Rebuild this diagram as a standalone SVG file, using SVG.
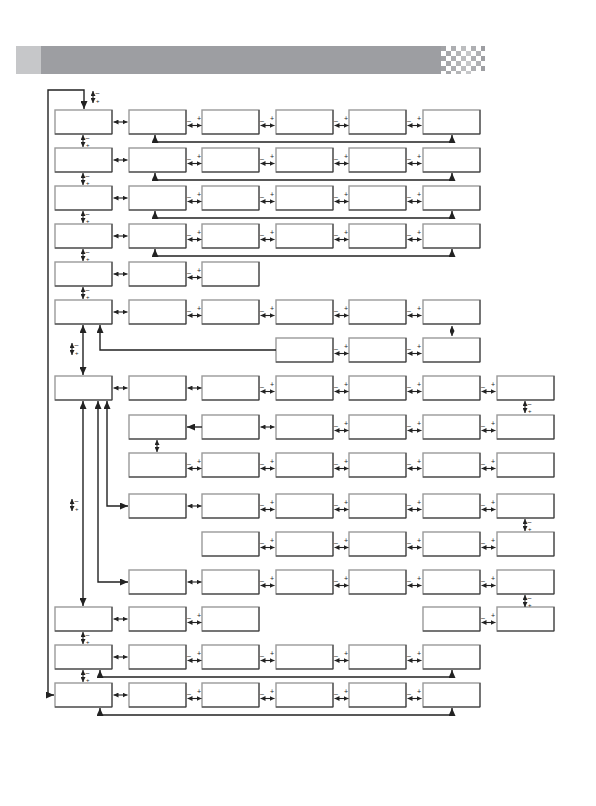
<svg xmlns="http://www.w3.org/2000/svg" xmlns:xlink="http://www.w3.org/1999/xlink" width="596" height="806" viewBox="0 0 596 806">
<style>
.bx{fill:#fff;stroke:#9a9a9a;stroke-width:1.4}
.be{fill:none;stroke:#333;stroke-width:1}
.ln{fill:none;stroke:#222;stroke-width:1.1}
.lg{fill:none;stroke:#222;stroke-width:1.4}
.t{font-family:"Liberation Sans",Arial,sans-serif;font-size:7px;fill:#222}
</style>
<defs>
<marker id="a" viewBox="0 0 5 5" markerWidth="5" markerHeight="5" refX="5" refY="2.5" orient="auto-start-reverse" markerUnits="userSpaceOnUse"><path d="M0,0L5,2.5L0,5z" fill="#222"/></marker>
<marker id="A" viewBox="0 0 8 7" markerWidth="8" markerHeight="7" refX="8" refY="3.5" orient="auto-start-reverse" markerUnits="userSpaceOnUse"><path d="M0,0L8,3.5L0,7z" fill="#222"/></marker>
<g id="box"><rect class="bx" x="0" y="0" width="57" height="24"/><path class="be" d="M0,24H57V0"/></g>
<g id="lr"><path class="ln" d="M1.5,12H15.5" marker-start="url(#a)" marker-end="url(#a)"/></g>
<g id="pm"><path class="ln" d="M1.5,15.5H15.5" marker-start="url(#a)" marker-end="url(#a)"/><text class="t" x="1" y="13">–</text><text class="t" x="11" y="11" font-size="6">+</text></g>
<g id="ud"><path class="ln" d="M0,1V13" marker-start="url(#a)" marker-end="url(#a)"/><text class="t" x="2.5" y="6">–</text><text class="t" x="3" y="13" style="font-size:6px">+</text></g>
<g id="ic"><path class="ln" d="M0,0V12" marker-start="url(#a)" marker-end="url(#a)"/><text class="t" x="2.5" y="4">–</text><text class="t" x="3" y="12" style="font-size:6px">+</text></g>
</defs>

<g id="header">
<rect x="16" y="46" width="25" height="28" fill="#c6c7c9"/>
<rect x="41" y="46" width="400" height="28" fill="#9d9ea2"/>
<g>
<rect x="441" y="46" width="5" height="5" fill="#a2a3a6"/><rect x="446" y="51" width="5" height="5" fill="#a6a7aa"/><rect x="441" y="56" width="5" height="5" fill="#a2a3a6"/><rect x="446" y="61" width="5" height="5" fill="#a6a7aa"/><rect x="441" y="66" width="5" height="5" fill="#a2a3a6"/><rect x="446" y="71" width="5" height="3" fill="#a6a7aa"/>
<rect x="451" y="46" width="5" height="5" fill="#adaeb1"/><rect x="456" y="51" width="5" height="5" fill="#b4b5b7"/><rect x="451" y="56" width="5" height="5" fill="#adaeb1"/><rect x="456" y="61" width="5" height="5" fill="#b4b5b7"/><rect x="451" y="66" width="5" height="5" fill="#adaeb1"/><rect x="456" y="71" width="5" height="3" fill="#b4b5b7"/>
<rect x="461" y="46" width="5" height="5" fill="#bcbdbf"/><rect x="466" y="51" width="5" height="5" fill="#c6c7c9"/><rect x="461" y="56" width="5" height="5" fill="#bcbdbf"/><rect x="466" y="61" width="5" height="5" fill="#c6c7c9"/><rect x="461" y="66" width="5" height="5" fill="#bcbdbf"/><rect x="466" y="71" width="5" height="3" fill="#c6c7c9"/>
<rect x="471" y="46" width="5" height="5" fill="#aeafb2"/><rect x="476" y="51" width="5" height="5" fill="#b0b1b4"/><rect x="471" y="56" width="5" height="5" fill="#aeafb2"/><rect x="476" y="61" width="5" height="5" fill="#b0b1b4"/><rect x="471" y="66" width="5" height="5" fill="#aeafb2"/>
<rect x="481" y="46" width="4" height="5" fill="#9d9ea2"/><rect x="481" y="56" width="4" height="5" fill="#9d9ea2"/><rect x="481" y="66" width="4" height="5" fill="#9d9ea2"/>
</g>
</g>

<g id="nodes">
<g id="r0c0"><use xlink:href="#box" x="55" y="110"/></g><g id="r0c1"><use xlink:href="#box" x="129" y="110"/></g><g id="r0c2"><use xlink:href="#box" x="202" y="110"/></g><g id="r0c3"><use xlink:href="#box" x="276" y="110"/></g><g id="r0c4"><use xlink:href="#box" x="349" y="110"/></g><g id="r0c5"><use xlink:href="#box" x="423" y="110"/></g>
<g id="r1c0"><use xlink:href="#box" x="55" y="148"/></g><g id="r1c1"><use xlink:href="#box" x="129" y="148"/></g><g id="r1c2"><use xlink:href="#box" x="202" y="148"/></g><g id="r1c3"><use xlink:href="#box" x="276" y="148"/></g><g id="r1c4"><use xlink:href="#box" x="349" y="148"/></g><g id="r1c5"><use xlink:href="#box" x="423" y="148"/></g>
<g id="r2c0"><use xlink:href="#box" x="55" y="186"/></g><g id="r2c1"><use xlink:href="#box" x="129" y="186"/></g><g id="r2c2"><use xlink:href="#box" x="202" y="186"/></g><g id="r2c3"><use xlink:href="#box" x="276" y="186"/></g><g id="r2c4"><use xlink:href="#box" x="349" y="186"/></g><g id="r2c5"><use xlink:href="#box" x="423" y="186"/></g>
<g id="r3c0"><use xlink:href="#box" x="55" y="224"/></g><g id="r3c1"><use xlink:href="#box" x="129" y="224"/></g><g id="r3c2"><use xlink:href="#box" x="202" y="224"/></g><g id="r3c3"><use xlink:href="#box" x="276" y="224"/></g><g id="r3c4"><use xlink:href="#box" x="349" y="224"/></g><g id="r3c5"><use xlink:href="#box" x="423" y="224"/></g>
<g id="r4c0"><use xlink:href="#box" x="55" y="262"/></g><g id="r4c1"><use xlink:href="#box" x="129" y="262"/></g><g id="r4c2"><use xlink:href="#box" x="202" y="262"/></g>
<g id="r5c0"><use xlink:href="#box" x="55" y="300"/></g><g id="r5c1"><use xlink:href="#box" x="129" y="300"/></g><g id="r5c2"><use xlink:href="#box" x="202" y="300"/></g><g id="r5c3"><use xlink:href="#box" x="276" y="300"/></g><g id="r5c4"><use xlink:href="#box" x="349" y="300"/></g><g id="r5c5"><use xlink:href="#box" x="423" y="300"/></g>
<g id="r6c3"><use xlink:href="#box" x="276" y="338"/></g><g id="r6c4"><use xlink:href="#box" x="349" y="338"/></g><g id="r6c5"><use xlink:href="#box" x="423" y="338"/></g>
<g id="r7c0"><use xlink:href="#box" x="55" y="376"/></g><g id="r7c1"><use xlink:href="#box" x="129" y="376"/></g><g id="r7c2"><use xlink:href="#box" x="202" y="376"/></g><g id="r7c3"><use xlink:href="#box" x="276" y="376"/></g><g id="r7c4"><use xlink:href="#box" x="349" y="376"/></g><g id="r7c5"><use xlink:href="#box" x="423" y="376"/></g><g id="r7c6"><use xlink:href="#box" x="497" y="376"/></g>
<g id="r8c1"><use xlink:href="#box" x="129" y="415"/></g><g id="r8c2"><use xlink:href="#box" x="202" y="415"/></g><g id="r8c3"><use xlink:href="#box" x="276" y="415"/></g><g id="r8c4"><use xlink:href="#box" x="349" y="415"/></g><g id="r8c5"><use xlink:href="#box" x="423" y="415"/></g><g id="r8c6"><use xlink:href="#box" x="497" y="415"/></g>
<g id="r9c1"><use xlink:href="#box" x="129" y="453"/></g><g id="r9c2"><use xlink:href="#box" x="202" y="453"/></g><g id="r9c3"><use xlink:href="#box" x="276" y="453"/></g><g id="r9c4"><use xlink:href="#box" x="349" y="453"/></g><g id="r9c5"><use xlink:href="#box" x="423" y="453"/></g><g id="r9c6"><use xlink:href="#box" x="497" y="453"/></g>
<g id="r10c1"><use xlink:href="#box" x="129" y="494"/></g><g id="r10c2"><use xlink:href="#box" x="202" y="494"/></g><g id="r10c3"><use xlink:href="#box" x="276" y="494"/></g><g id="r10c4"><use xlink:href="#box" x="349" y="494"/></g><g id="r10c5"><use xlink:href="#box" x="423" y="494"/></g><g id="r10c6"><use xlink:href="#box" x="497" y="494"/></g>
<g id="r11c2"><use xlink:href="#box" x="202" y="532"/></g><g id="r11c3"><use xlink:href="#box" x="276" y="532"/></g><g id="r11c4"><use xlink:href="#box" x="349" y="532"/></g><g id="r11c5"><use xlink:href="#box" x="423" y="532"/></g><g id="r11c6"><use xlink:href="#box" x="497" y="532"/></g>
<g id="r12c1"><use xlink:href="#box" x="129" y="570"/></g><g id="r12c2"><use xlink:href="#box" x="202" y="570"/></g><g id="r12c3"><use xlink:href="#box" x="276" y="570"/></g><g id="r12c4"><use xlink:href="#box" x="349" y="570"/></g><g id="r12c5"><use xlink:href="#box" x="423" y="570"/></g><g id="r12c6"><use xlink:href="#box" x="497" y="570"/></g>
<g id="r13c0"><use xlink:href="#box" x="55" y="607"/></g><g id="r13c1"><use xlink:href="#box" x="129" y="607"/></g><g id="r13c2"><use xlink:href="#box" x="202" y="607"/></g><g id="r13c5"><use xlink:href="#box" x="423" y="607"/></g><g id="r13c6"><use xlink:href="#box" x="497" y="607"/></g>
<g id="r14c0"><use xlink:href="#box" x="55" y="645"/></g><g id="r14c1"><use xlink:href="#box" x="129" y="645"/></g><g id="r14c2"><use xlink:href="#box" x="202" y="645"/></g><g id="r14c3"><use xlink:href="#box" x="276" y="645"/></g><g id="r14c4"><use xlink:href="#box" x="349" y="645"/></g><g id="r14c5"><use xlink:href="#box" x="423" y="645"/></g>
<g id="r15c0"><use xlink:href="#box" x="55" y="683"/></g><g id="r15c1"><use xlink:href="#box" x="129" y="683"/></g><g id="r15c2"><use xlink:href="#box" x="202" y="683"/></g><g id="r15c3"><use xlink:href="#box" x="276" y="683"/></g><g id="r15c4"><use xlink:href="#box" x="349" y="683"/></g><g id="r15c5"><use xlink:href="#box" x="423" y="683"/></g>
</g>

<g id="connectors">
<use xlink:href="#lr" x="112" y="110"/><use xlink:href="#lr" x="112" y="148"/><use xlink:href="#lr" x="112" y="186"/><use xlink:href="#lr" x="112" y="224"/><use xlink:href="#lr" x="112" y="262"/><use xlink:href="#lr" x="112" y="300"/><use xlink:href="#lr" x="112" y="376"/><use xlink:href="#lr" x="112" y="607"/><use xlink:href="#lr" x="112" y="645"/><use xlink:href="#lr" x="112" y="683"/>
<use xlink:href="#lr" x="186" y="376"/><use xlink:href="#lr" x="186" y="494"/><use xlink:href="#lr" x="186" y="570"/><use xlink:href="#lr" x="259" y="415"/>
<path class="lg" d="M202,427H187" marker-end="url(#A)"/>

<use xlink:href="#pm" x="186" y="110"/><use xlink:href="#pm" x="259" y="110"/><use xlink:href="#pm" x="333" y="110"/><use xlink:href="#pm" x="406" y="110"/>
<use xlink:href="#pm" x="186" y="148"/><use xlink:href="#pm" x="259" y="148"/><use xlink:href="#pm" x="333" y="148"/><use xlink:href="#pm" x="406" y="148"/>
<use xlink:href="#pm" x="186" y="186"/><use xlink:href="#pm" x="259" y="186"/><use xlink:href="#pm" x="333" y="186"/><use xlink:href="#pm" x="406" y="186"/>
<use xlink:href="#pm" x="186" y="224"/><use xlink:href="#pm" x="259" y="224"/><use xlink:href="#pm" x="333" y="224"/><use xlink:href="#pm" x="406" y="224"/>
<use xlink:href="#pm" x="186" y="262"/>
<use xlink:href="#pm" x="186" y="300"/><use xlink:href="#pm" x="259" y="300"/><use xlink:href="#pm" x="333" y="300"/><use xlink:href="#pm" x="406" y="300"/>
<use xlink:href="#pm" x="333" y="338"/><use xlink:href="#pm" x="406" y="338"/>
<use xlink:href="#pm" x="259" y="376"/><use xlink:href="#pm" x="333" y="376"/><use xlink:href="#pm" x="406" y="376"/><use xlink:href="#pm" x="480" y="376"/>
<use xlink:href="#pm" x="333" y="415"/><use xlink:href="#pm" x="406" y="415"/><use xlink:href="#pm" x="480" y="415"/>
<use xlink:href="#pm" x="186" y="453"/><use xlink:href="#pm" x="259" y="453"/><use xlink:href="#pm" x="333" y="453"/><use xlink:href="#pm" x="406" y="453"/><use xlink:href="#pm" x="480" y="453"/>
<use xlink:href="#pm" x="259" y="494"/><use xlink:href="#pm" x="333" y="494"/><use xlink:href="#pm" x="406" y="494"/><use xlink:href="#pm" x="480" y="494"/>
<use xlink:href="#pm" x="259" y="532"/><use xlink:href="#pm" x="333" y="532"/><use xlink:href="#pm" x="406" y="532"/><use xlink:href="#pm" x="480" y="532"/>
<use xlink:href="#pm" x="259" y="570"/><use xlink:href="#pm" x="333" y="570"/><use xlink:href="#pm" x="406" y="570"/><use xlink:href="#pm" x="480" y="570"/>
<use xlink:href="#pm" x="186" y="607"/><use xlink:href="#pm" x="480" y="607"/>
<use xlink:href="#pm" x="186" y="645"/><use xlink:href="#pm" x="259" y="645"/><use xlink:href="#pm" x="333" y="645"/><use xlink:href="#pm" x="406" y="645"/>
<use xlink:href="#pm" x="186" y="683"/><use xlink:href="#pm" x="259" y="683"/><use xlink:href="#pm" x="333" y="683"/><use xlink:href="#pm" x="406" y="683"/>

<use xlink:href="#ud" x="83" y="134"/><use xlink:href="#ud" x="83" y="172"/><use xlink:href="#ud" x="83" y="210"/><use xlink:href="#ud" x="83" y="248"/><use xlink:href="#ud" x="83" y="286"/>
<use xlink:href="#ud" x="83" y="631"/><use xlink:href="#ud" x="83" y="669"/>
<use xlink:href="#ud" x="525" y="400"/><use xlink:href="#ud" x="525" y="518"/><use xlink:href="#ud" x="525" y="594"/>
<path class="ln" d="M452,326V336" marker-start="url(#a)" marker-end="url(#a)"/>
<path class="ln" d="M157,440V452" marker-start="url(#a)" marker-end="url(#a)"/>

<path class="lg" d="M155,135V142H452V135" marker-start="url(#A)" marker-end="url(#A)"/>
<path class="lg" d="M155,173V180H452V173" marker-start="url(#A)" marker-end="url(#A)"/>
<path class="lg" d="M155,211V218H452V211" marker-start="url(#A)" marker-end="url(#A)"/>
<path class="lg" d="M155,249V256H452V249" marker-start="url(#A)" marker-end="url(#A)"/>
<path class="lg" d="M276,350H100V325" marker-end="url(#A)"/>
<path class="lg" d="M100,670V677H452V670" marker-start="url(#A)" marker-end="url(#A)"/>
<path class="lg" d="M100,708V715H452V708" stroke="#555" marker-start="url(#A)" marker-end="url(#A)"/>

<path class="lg" d="M83,325V375" marker-start="url(#A)" marker-end="url(#A)"/>
<path class="lg" d="M83,401V606" marker-start="url(#A)" marker-end="url(#A)"/>
<path class="lg" d="M98,401V582H128" marker-start="url(#A)" marker-end="url(#A)"/>
<path class="lg" d="M107,401V506H128" marker-start="url(#A)" marker-end="url(#A)"/>
<path class="lg" d="M54,695H48V90H84V109" marker-start="url(#A)" marker-end="url(#A)"/>

<use xlink:href="#ic" x="93" y="91"/>
<use xlink:href="#ic" x="72" y="343"/>
<use xlink:href="#ic" x="72" y="499"/>
</g>
</svg>
